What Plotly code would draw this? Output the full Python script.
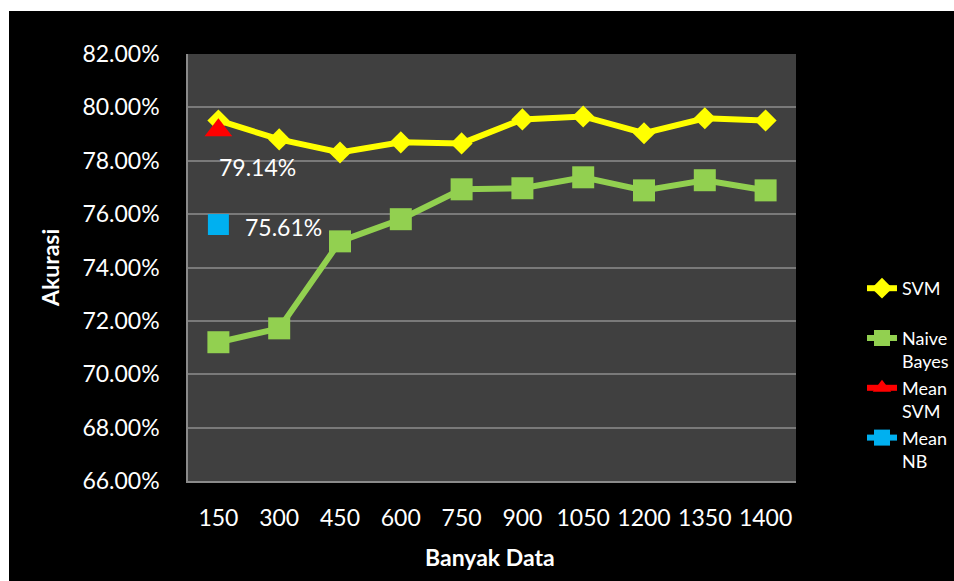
import plotly.graph_objects as go

# Sample sizes (x categories)
banyak_data = ["150", "300", "450", "600", "750", "900", "1050", "1200", "1350", "1400"]

# Accuracy (%) per sample size
svm_acc = [79.51, 78.80, 78.31, 78.69, 78.65, 79.55, 79.66, 79.03, 79.59, 79.51]
nb_acc = [71.20, 71.72, 74.98, 75.81, 76.93, 76.97, 77.38, 76.89, 77.27, 76.89]

# Mean accuracy of each method
mean_svm = 79.14
mean_nb = 75.61

y_ticks = [66, 68, 70, 72, 74, 76, 78, 80, 82]
y_ticktext = [f"{v:.2f}%" for v in y_ticks]

FONT = "Lato, 'Open Sans', sans-serif"
W, H = 954, 581
ML, MR, MT, MB = 188, 158, 54, 100
PW, PH = W - ML - MR, H - MT - MB


def px_x(p):
    return (p - ML) / PW


def px_y(p):
    return (H - MB - p) / PH


fig = go.Figure()

fig.add_trace(go.Scatter(
    x=banyak_data, y=svm_acc, name="SVM<br>\u00a0",
    mode="lines+markers",
    line=dict(color="#FFFF00", width=6),
    marker=dict(symbol="diamond", size=17, color="#FFFF00"),
))
fig.add_trace(go.Scatter(
    x=banyak_data, y=nb_acc, name="Naive<br>Bayes",
    mode="lines+markers",
    line=dict(color="#92D050", width=6),
    marker=dict(symbol="square", size=22, color="#92D050"),
))
fig.add_trace(go.Scatter(
    x=[banyak_data[0]], y=[mean_svm], name="Mean<br>SVM",
    mode="lines+markers",
    line=dict(color="#FF0000", width=6),
    marker=dict(symbol="triangle-up", size=24, color="#FF0000"),
))
fig.add_trace(go.Scatter(
    x=[banyak_data[0]], y=[mean_nb], name="Mean<br>NB",
    mode="lines+markers",
    line=dict(color="#00B0F0", width=6),
    marker=dict(symbol="square", size=21, color="#00B0F0"),
))

# Value labels for the two means (category axis -> use category index)
first_idx = banyak_data.index("150")
fig.add_annotation(x=first_idx, y=mean_svm, text=f"{mean_svm:.2f}%",
                   showarrow=False, xshift=39, yshift=-37,
                   xanchor="center", yanchor="middle",
                   font=dict(family=FONT, size=23, color="white"))
fig.add_annotation(x=first_idx, y=mean_nb, text=f"{mean_nb:.2f}%",
                   showarrow=False, xshift=65, yshift=-2,
                   xanchor="center", yanchor="middle",
                   font=dict(family=FONT, size=23, color="white"))

# Axis titles
fig.add_annotation(xref="paper", yref="paper", x=px_x(50), y=px_y(268),
                   xanchor="center", yanchor="middle",
                   text="<b>Akurasi</b>", textangle=-90, showarrow=False,
                   font=dict(family=FONT, size=23, color="white"))
fig.add_annotation(xref="paper", yref="paper", x=px_x(490), y=px_y(557),
                   xanchor="center", yanchor="middle",
                   text="<b>Banyak Data</b>", showarrow=False,
                   font=dict(family=FONT, size=23, color="white"))

# White frame strips on the top and left edges of the page
fig.add_shape(type="rect", xref="paper", yref="paper",
              x0=px_x(-5), x1=px_x(9), y0=px_y(H + 5), y1=px_y(-5),
              fillcolor="white", line=dict(width=0))
fig.add_shape(type="rect", xref="paper", yref="paper",
              x0=px_x(-5), x1=px_x(W + 5), y0=px_y(11), y1=px_y(-5),
              fillcolor="white", line=dict(width=0))

fig.update_layout(
    width=W, height=H,
    margin=dict(l=ML, r=MR, t=MT, b=MB),
    paper_bgcolor="black",
    plot_bgcolor="#404040",
    font=dict(family=FONT, color="white"),
    showlegend=True,
    legend=dict(
        xref="container", yref="container",
        x=862 / W, y=(H - 270) / H, xanchor="left", yanchor="top",
        bgcolor="rgba(0,0,0,0)", borderwidth=0,
        font=dict(family=FONT, size=18, color="white"),
        valign="top", itemwidth=30,
    ),
)

fig.update_xaxes(
    type="category", range=[-0.5, 9.5],
    showgrid=False, zeroline=False,
    showline=True, linecolor="#8a8a8a", linewidth=1.5,
    ticks="", ticklabelstandoff=16,
    tickfont=dict(family=FONT, size=23, color="white"),
)
fig.update_yaxes(
    range=[66, 82], tickmode="array", tickvals=y_ticks, ticktext=y_ticktext,
    showgrid=True, gridcolor="#7a7a7a", gridwidth=1.5,
    zeroline=False,
    showline=True, linecolor="#8a8a8a", linewidth=1.5,
    ticks="", ticklabelstandoff=22,
    tickfont=dict(family=FONT, size=23, color="white"),
)

fig.write_html("out.html")
